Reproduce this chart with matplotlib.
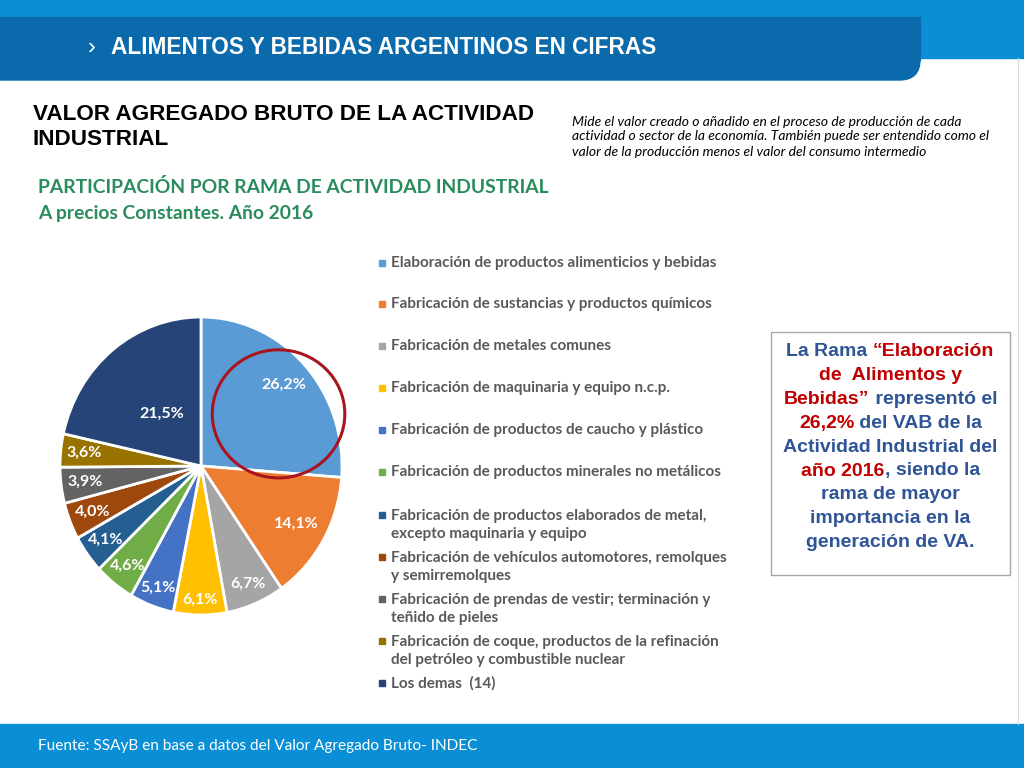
import numpy as np
import matplotlib.pyplot as plt
from matplotlib.patches import Rectangle, FancyBboxPatch, Ellipse

W, H = 1024, 768

ramas = [
    "Elaboración de productos alimenticios y bebidas",
    "Fabricación de sustancias y productos químicos",
    "Fabricación de metales comunes",
    "Fabricación de maquinaria y equipo n.c.p.",
    "Fabricación de productos de caucho y plástico",
    "Fabricación de productos minerales no metálicos",
    "Fabricación de productos elaborados de metal,\nexcepto maquinaria y equipo",
    "Fabricación de vehículos automotores, remolques\ny semirremolques",
    "Fabricación de prendas de vestir; terminación y\nteñido de pieles",
    "Fabricación de coque, productos de la refinación\ndel petróleo y combustible nuclear",
    "Los demas  (14)",
]
participacion = [26.2, 14.1, 6.7, 6.1, 5.1, 4.6, 4.1, 4.0, 3.9, 3.6, 21.5]
etiquetas = ["26,2%", "14,1%", "6,7%", "6,1%", "5,1%", "4,6%", "4,1%", "4,0%", "3,9%", "3,6%", "21,5%"]

colores = ["#5B9BD5", "#ED7D31", "#A5A5A5", "#FFC000", "#4472C4", "#70AD47",
           "#255E91", "#9E480E", "#636363", "#997300", "#264478"]
# distancia radial de cada etiqueta (estilo)
dist_etiq = [0.80, 0.78, 0.86, 0.90, 0.87, 0.85, 0.84, 0.83, 0.83, 0.83, 0.45]

AZUL_CLARO = "#0A8FD6"
AZUL_OSC = "#0A6AAB"


def fx(x):
    return x / W


def fy(y):
    return 1 - y / H


fig = plt.figure(figsize=(W / 100, H / 100), dpi=100)
fig.patch.set_facecolor("white")

# encabezado
fig.patches.append(Rectangle((0, fy(17)), 1, 17 / H, transform=fig.transFigure,
                             color=AZUL_CLARO, zorder=0))
fig.patches.append(Rectangle((fx(900), fy(58)), 124 / W, 58 / H, transform=fig.transFigure,
                             color=AZUL_CLARO, zorder=0))
fig.patches.append(FancyBboxPatch((fx(-40), fy(80)), 960 / W, 50 / H,
                                  boxstyle="round,pad=0,rounding_size=0.02",
                                  transform=fig.transFigure, color=AZUL_OSC, zorder=1,
                                  mutation_aspect=W / H))
fig.patches.append(Rectangle((0, fy(60)), 920 / W, 43 / H, transform=fig.transFigure,
                             color=AZUL_OSC, zorder=1))
fig.text(fx(88), fy(48), "›", color="white", fontsize=17, family="Liberation Sans",
         va="center")
fig.text(fx(111), fy(48), "ALIMENTOS Y BEBIDAS ARGENTINOS EN CIFRAS", color="white",
         fontsize=16.3, fontweight="bold", family="Liberation Sans", va="center")

# pie de página
fig.patches.append(Rectangle((0, 0), 1, 44 / H, transform=fig.transFigure,
                             color=AZUL_CLARO, zorder=0))
fig.text(fx(38), fy(746), "Fuente: SSAyB en base a datos del Valor Agregado Bruto- INDEC",
         color="white", fontsize=11.1, family="Lato", va="center")
fig.lines.append(plt.Line2D([fx(1018), fx(1018)], [fy(58), fy(724)], transform=fig.transFigure,
                            color="#d9d9d9", lw=0.8))

# títulos
fig.text(fx(33), fy(127), "VALOR AGREGADO BRUTO DE LA ACTIVIDAD\nINDUSTRIAL", color="black",
         fontsize=16.2, fontweight="bold", family="Liberation Sans", va="center",
         linespacing=1.2)
fig.text(fx(38), fy(200), "PARTICIPACIÓN POR RAMA DE ACTIVIDAD INDUSTRIAL\nA precios Constantes. Año 2016",
         color="#2A8C5C", fontsize=13.9, fontweight="bold", family="Lato", va="center",
         linespacing=1.6)
fig.text(fx(572), fy(136.5),
         "Mide el valor creado o añadido en el proceso de producción de cada\n"
         "actividad o sector de la economía. También puede ser entendido como el\n"
         "valor de la producción menos el valor del consumo intermedio",
         color="black", fontsize=10, style="italic", family="Lato", va="center",
         linespacing=1.3)

# gráfico de torta
cx, cy, rx, ry = 201, 466, 141, 149
lim = 1.05
ax = fig.add_axes([fx(cx - rx * lim), fy(cy + ry * lim), 2 * rx * lim / W, 2 * ry * lim / H])
wedges, _ = ax.pie(participacion, colors=colores, startangle=90, counterclock=False,
                   wedgeprops=dict(edgecolor="white", linewidth=2))
ax.set_aspect("auto")
ax.set_xlim(-lim, lim)
ax.set_ylim(-lim, lim)
for w, lab, d in zip(wedges, etiquetas, dist_etiq):
    ang = np.deg2rad((w.theta1 + w.theta2) / 2)
    ax.text(d * np.cos(ang), d * np.sin(ang), lab, color="white", fontsize=11.5,
            fontweight="bold", family="Lato", ha="center", va="center")
ax.add_patch(Ellipse((0.55, 0.35), 0.94, 0.86, fill=False, edgecolor="#A8151F", lw=2.2))

# leyenda
ley_y = [263, 304, 346, 388, 430, 472, 525, 567, 609, 651, 683]
for lab, col, y in zip(ramas, colores, ley_y):
    y0 = y - 10.5 if "\n" in lab else y
    fig.patches.append(Rectangle((fx(379), fy(y0 + 3)), 6 / W, 6 / H,
                                 transform=fig.transFigure, color=col))
    fig.text(fx(391), fy(y), lab, color="#595959", fontsize=11, fontweight="bold",
             family="Lato", va="center", linespacing=1.35)

# cuadro derecho
fig.patches.append(Rectangle((fx(771), fy(575)), 239 / W, 243 / H, transform=fig.transFigure,
                             facecolor="white", edgecolor="#A6A6A6", lw=1))
AZ = "#2F5597"
RJ = "#C00000"
lineas = [
    [("La Rama ", AZ), ("“Elaboración", RJ)],
    [("de  Alimentos y", RJ)],
    [("Bebidas”", RJ), (" representó el", AZ)],
    [("26,2%", RJ), (" del VAB de la", AZ)],
    [("Actividad Industrial del", AZ)],
    [("año 2016", RJ), (", siendo la", AZ)],
    [("rama de mayor", AZ)],
    [("importancia en la", AZ)],
    [("generación de VA.", AZ)],
]
fig.canvas.draw()
r = fig.canvas.get_renderer()
for i, segs in enumerate(lineas):
    y = 352 + i * 23.8
    txts = [fig.text(0, fy(y), s, color=c, fontsize=14, fontweight="bold",
                     family="Liberation Sans", va="center") for s, c in segs]
    anchos = [t.get_window_extent(r).width for t in txts]
    x = 890.5 - sum(anchos) / 2
    for t, a in zip(txts, anchos):
        t.set_x(fx(x))
        x += a

fig.savefig("out.png", dpi=100)
